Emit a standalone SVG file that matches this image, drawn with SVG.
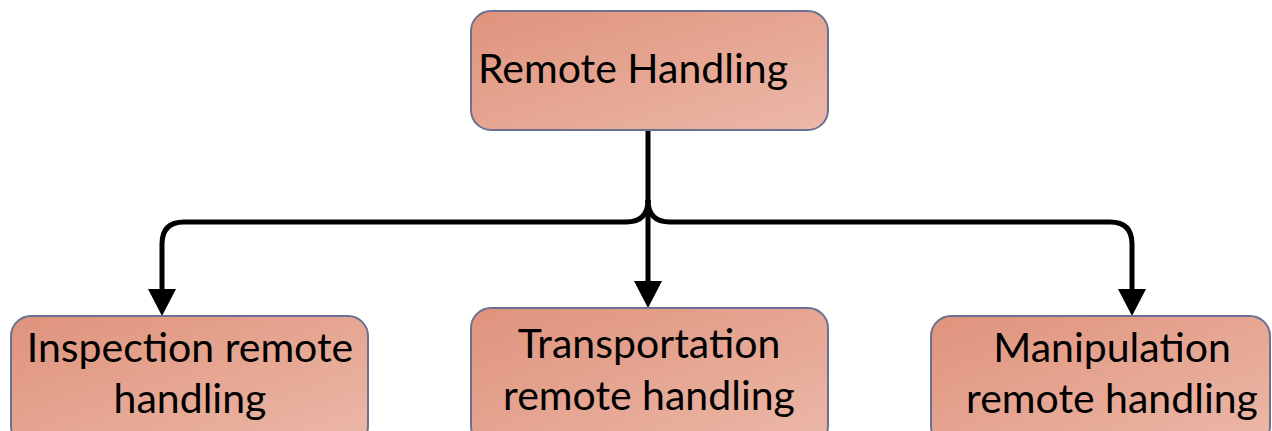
<svg xmlns="http://www.w3.org/2000/svg" width="1272" height="431" viewBox="0 0 1272 431">
<defs>
<linearGradient id="g" x1="0" y1="0" x2="1" y2="1">
<stop offset="0" stop-color="#df937c"/>
<stop offset="1" stop-color="#ecb8a8"/>
</linearGradient>
<style>
.box{fill:url(#g);stroke:#6a7192;stroke-width:2}
.t{font-family:Lato,"Liberation Sans",sans-serif;font-size:41px;fill:#000}
.c{fill:none;stroke:#000;stroke-width:5;stroke-linejoin:round}
.ah{fill:#000}
</style>
</defs>
<g id="connectors">
<path class="c" d="M648,130 V200 Q648,222 626,222 H184 Q162,222 162,244 V292"/>
<path class="c" d="M648,200 Q648,222 670,222 H1110 Q1132,222 1132,244 V292"/>
<path class="c" d="M648,200 V284"/>
<path class="ah" d="M148,289 L176,289 L162,316 Z"/>
<path class="ah" d="M634,281 L662,281 L648,308 Z"/>
<path class="ah" d="M1118,289 L1146,289 L1132,316 Z"/>
</g>
<g id="n0"><rect class="box" x="471" y="11" width="357" height="119" rx="20"/><text class="t" x="478" y="83">Remote Handling</text></g>
<g id="n1"><rect class="box" x="11" y="316" width="357" height="130" rx="20"/><text class="t" x="190" y="362" text-anchor="middle">Inspection remote</text><text class="t" x="190" y="413" text-anchor="middle">handling</text></g>
<g id="n2"><rect class="box" x="471" y="308" width="357" height="138" rx="20"/><text class="t" x="649" y="358" text-anchor="middle">Transportation</text><text class="t" x="649" y="410" text-anchor="middle">remote handling</text></g>
<g id="n3"><rect class="box" x="931" y="316" width="339" height="130" rx="20"/><text class="t" x="1112" y="362" text-anchor="middle">Manipulation</text><text class="t" x="1112" y="413" text-anchor="middle">remote handling</text></g>
</svg>
